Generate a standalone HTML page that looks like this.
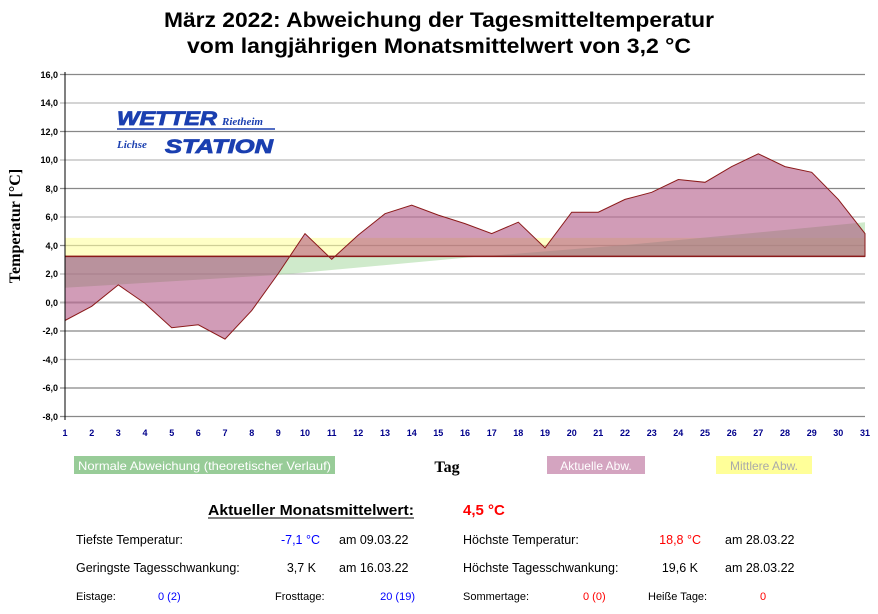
<!DOCTYPE html>
<html><head><meta charset="utf-8"><style>
body{margin:0;background:#fff}
svg text{font-family:"Liberation Sans",Arial,sans-serif}
</style></head><body>
<svg width="878" height="609" xmlns="http://www.w3.org/2000/svg">
<rect width="878" height="609" fill="#fff"/>
<text x="439" y="27" font-size="21" font-weight="bold" text-anchor="middle" textLength="550" lengthAdjust="spacingAndGlyphs">März 2022: Abweichung der Tagesmitteltemperatur</text>
<text x="439" y="53" font-size="21" font-weight="bold" text-anchor="middle" textLength="504" lengthAdjust="spacingAndGlyphs">vom langjährigen Monatsmittelwert von 3,2 °C</text>
<g stroke-width="1.2">
<line x1="60" x2="865" y1="74.5" y2="74.5" stroke="#888"/>
<line x1="60" x2="865" y1="103" y2="103" stroke="#bbb"/>
<line x1="60" x2="865" y1="131.5" y2="131.5" stroke="#888"/>
<line x1="60" x2="865" y1="160" y2="160" stroke="#bbb"/>
<line x1="60" x2="865" y1="188.5" y2="188.5" stroke="#888"/>
<line x1="60" x2="865" y1="217" y2="217" stroke="#bbb"/>
<line x1="60" x2="865" y1="245.5" y2="245.5" stroke="#888"/>
<line x1="60" x2="865" y1="274" y2="274" stroke="#bbb"/>
<line x1="60" x2="865" y1="302.5" y2="302.5" stroke="#bbb" stroke-width="2"/>
<line x1="60" x2="865" y1="331" y2="331" stroke="#888"/>
<line x1="60" x2="865" y1="359.5" y2="359.5" stroke="#bbb"/>
<line x1="60" x2="865" y1="388" y2="388" stroke="#888"/>
<line x1="60" x2="865" y1="416.5" y2="416.5" stroke="#888"/>
</g>
<rect x="65" y="237.9" width="800" height="18.5" fill="#ffffa0" opacity="0.6"/>
<path d="M65,256.4 L65,287.8 L278.3,274.9 L465,257.8 L625,245 L731.7,235 L865,222.2 L865,256.4 Z" fill="#a8d8a0" opacity="0.55"/>
<path d="M65,256.4 L65,320.5 L91.7,306.3 L118.3,284.9 L145,303.4 L171.7,327.7 L198.3,324.8 L225,339.1 L251.7,310.6 L278.3,273.5 L305,233.6 L331.7,259.3 L358.3,235 L385,213.7 L411.7,205.1 L438.3,215.1 L465,223.6 L491.7,233.6 L518.3,222.2 L545,247.9 L571.7,212.2 L598.3,212.2 L625,199.4 L651.7,192.3 L678.3,179.5 L705,182.3 L731.7,166.6 L758.3,153.8 L785,166.6 L811.7,172.3 L838.3,199.4 L865,233.6 L865,256.4 Z" fill="#a43a70" fill-opacity="0.5" stroke="#8b1a1a" stroke-width="1"/>
<line x1="65" x2="865" y1="256.4" y2="256.4" stroke="#8b1a1a" stroke-width="1.5"/>
<line x1="65" y1="72" x2="65" y2="420" stroke="#000"/>
<g font-size="9" font-weight="bold" fill="#000" text-anchor="end">
<text x="58" y="78">16,0</text><text x="58" y="106">14,0</text><text x="58" y="135">12,0</text><text x="58" y="163">10,0</text><text x="58" y="192">8,0</text><text x="58" y="220">6,0</text><text x="58" y="249">4,0</text><text x="58" y="277">2,0</text><text x="58" y="306">0,0</text><text x="58" y="334">-2,0</text><text x="58" y="363">-4,0</text><text x="58" y="391">-6,0</text><text x="58" y="420">-8,0</text>
</g>
<g font-size="9" font-weight="bold" fill="#00008b" text-anchor="middle">
<text x="65" y="436">1</text><text x="91.7" y="436">2</text><text x="118.3" y="436">3</text><text x="145" y="436">4</text><text x="171.7" y="436">5</text><text x="198.3" y="436">6</text><text x="225" y="436">7</text><text x="251.7" y="436">8</text><text x="278.3" y="436">9</text><text x="305" y="436">10</text><text x="331.7" y="436">11</text><text x="358.3" y="436">12</text><text x="385" y="436">13</text><text x="411.7" y="436">14</text><text x="438.3" y="436">15</text><text x="465" y="436">16</text><text x="491.7" y="436">17</text><text x="518.3" y="436">18</text><text x="545" y="436">19</text><text x="571.7" y="436">20</text><text x="598.3" y="436">21</text><text x="625" y="436">22</text><text x="651.7" y="436">23</text><text x="678.3" y="436">24</text><text x="705" y="436">25</text><text x="731.7" y="436">26</text><text x="758.3" y="436">27</text><text x="785" y="436">28</text><text x="811.7" y="436">29</text><text x="838.3" y="436">30</text><text x="865" y="436">31</text>
</g>
<text transform="translate(20,226) rotate(-90)" font-size="16" font-weight="bold" text-anchor="middle" style="font-family:'Liberation Serif',serif">Temperatur [°C]</text>
<text x="117" y="125" font-size="19" font-weight="bold" font-style="italic" fill="#1a3fb0" stroke="#1a3fb0" stroke-width="0.8" textLength="100" lengthAdjust="spacingAndGlyphs">WETTER</text>
<text x="222" y="125" font-size="11" font-weight="bold" font-style="italic" fill="#1a3fb0" style="font-family:'Liberation Serif',serif">Rietheim</text>
<line x1="117" y1="129" x2="275" y2="129" stroke="#1a3fb0" stroke-width="1.5"/>
<text x="117" y="148" font-size="11" font-weight="bold" font-style="italic" fill="#1a3fb0" style="font-family:'Liberation Serif',serif">Lichse</text>
<text x="165" y="153" font-size="19" font-weight="bold" font-style="italic" fill="#1a3fb0" stroke="#1a3fb0" stroke-width="0.8" textLength="108" lengthAdjust="spacingAndGlyphs">STATION</text>
<rect x="74" y="456" width="261" height="18" fill="#98cc98"/>
<text x="78" y="470" font-size="12" fill="#fff" textLength="253" lengthAdjust="spacingAndGlyphs">Normale Abweichung (theoretischer Verlauf)</text>
<text x="447" y="472" font-size="16" font-weight="bold" text-anchor="middle" style="font-family:'Liberation Serif',serif">Tag</text>
<rect x="547" y="456" width="98" height="18" fill="#d4a4c0"/>
<text x="596" y="470" font-size="12" fill="#fff" text-anchor="middle">Aktuelle Abw.</text>
<rect x="716" y="456" width="96" height="18" fill="#ffff99"/>
<text x="764" y="470" font-size="12" fill="#aaa" text-anchor="middle">Mittlere Abw.</text>
<text x="208" y="515" font-size="15" font-weight="bold" textLength="206" lengthAdjust="spacingAndGlyphs">Aktueller Monatsmittelwert:</text>
<line x1="208" y1="518" x2="414" y2="518" stroke="#000"/>
<text x="463" y="515" font-size="15" font-weight="bold" fill="#f00">4,5 °C</text>
<g font-size="12.5">
<text x="76" y="544">Tiefste Temperatur:</text>
<text x="320" y="544" fill="#00f" text-anchor="end">-7,1 °C</text>
<text x="339" y="544">am 09.03.22</text>
<text x="463" y="544">Höchste Temperatur:</text>
<text x="701" y="544" fill="#f00" text-anchor="end">18,8 °C</text>
<text x="725" y="544">am 28.03.22</text>
<text x="76" y="572">Geringste Tagesschwankung:</text>
<text x="316" y="572" text-anchor="end">3,7 K</text>
<text x="339" y="572">am 16.03.22</text>
<text x="463" y="572">Höchste Tagesschwankung:</text>
<text x="698" y="572" text-anchor="end">19,6 K</text>
<text x="725" y="572">am 28.03.22</text>
</g>
<g font-size="11">
<text x="76" y="600">Eistage:</text>
<text x="158" y="600" fill="#00f">0 (2)</text>
<text x="275" y="600">Frosttage:</text>
<text x="415" y="600" fill="#00f" text-anchor="end">20 (19)</text>
<text x="463" y="600">Sommertage:</text>
<text x="583" y="600" fill="#f00">0 (0)</text>
<text x="648" y="600">Heiße Tage:</text>
<text x="760" y="600" fill="#f00">0</text>
</g>
</svg>
</body></html>
